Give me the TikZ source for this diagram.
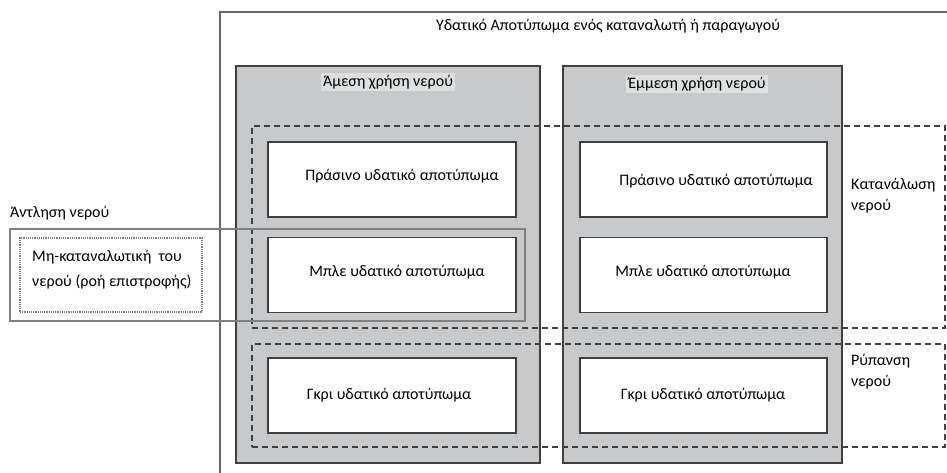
\documentclass[tikz,border=0pt]{standalone}
\usepackage{fontspec}
\setmainfont{Carlito}
\definecolor{boxgray}{RGB}{200,201,203}
\definecolor{edge}{RGB}{64,64,64}
\tikzset{
  usebox/.style={draw=edge,line width=1.5pt,fill=boxgray,inner sep=0pt,minimum height=397pt},
  fpbox/.style={draw=edge,line width=1.5pt,fill=white,inner sep=0pt,minimum height=75pt},
  zone/.style={draw=edge,line width=1.2pt,dash pattern=on 6pt off 4pt,inner sep=0pt},
  head/.style={fill=boxgray!60!white,inner sep=2pt},
  txt/.style={align=left,inner sep=0pt,anchor=north west}
}
\begin{document}
\begin{tikzpicture}[x=1pt,y=-1pt,font=\fontsize{16}{21}\selectfont]
    \useasboundingbox (0,0) rectangle (947,472);
    % frame
    \draw [edge!80,line width=1.2pt] (220,490) |- (970,12);
    \node (T) at (608,26) {Υδατικό Αποτύπωμα ενός καταναλωτή ή παραγωγού};

    \node [usebox,minimum width=304pt] (A) at (388,264.5) {};
    \node [usebox,minimum width=279pt] (E) at (702.5,264.5) {};
    \node [head] (AH) at (388,82) {Άμεση χρήση νερού};
    \node [head] (EH) at (697,84) {Έμμεση χρήση νερού};

    \node [fpbox,minimum width=248pt] (PA) at (392,179.5) {};
    \node [fpbox,minimum width=248pt] (BA) at (392,275)   {};
    \node [fpbox,minimum width=248pt] (GA) at (392,395.5) {};
    \node [fpbox,minimum width=247pt] (PE) at (703.5,179.5) {};
    \node [fpbox,minimum width=247pt] (BE) at (703.5,275)   {};
    \node [fpbox,minimum width=247pt] (GE) at (703.5,395.5) {};
    \node at (402,176) {Πράσινο υδατικό αποτύπωμα};
    \node at (397,272) {Μπλε υδατικό αποτύπωμα};
    \node at (389,395) {Γκρι υδατικό αποτύπωμα};
    \node at (716,181) {Πράσινο υδατικό αποτύπωμα};
    \node at (703,272) {Μπλε υδατικό αποτύπωμα};
    \node at (703,395) {Γκρι υδατικό αποτύπωμα};

    % zones
    \node [zone,minimum width=693pt,minimum height=202pt] (K) at (598.5,227) {};
    \node [zone,minimum width=693pt,minimum height=103pt] (R) at (598.5,395.5) {};
    \node [txt] (KT) at (851,178) {Κατανάλωση\\νερού};
    \node [txt] (RT) at (851,354) {Ρύπανση\\νερού};

    % pumping
    \node [draw=gray,line width=1.3pt,inner sep=0pt,minimum width=515pt,minimum height=92pt] (N) at (267.5,275) {};
    \node [draw=gray,densely dotted,line width=1.2pt,inner sep=0pt,minimum width=182pt,minimum height=74pt] (M) at (111,275) {};
    \node [txt,anchor=west] (NT) at (10,213) {Άντληση νερού};
    \node [txt,font=\fontsize{16}{25}\selectfont] (MT) at (32,250) {Μη-καταναλωτική\ \ του\\νερού (ροή επιστροφής)};
\end{tikzpicture}
\end{document}
